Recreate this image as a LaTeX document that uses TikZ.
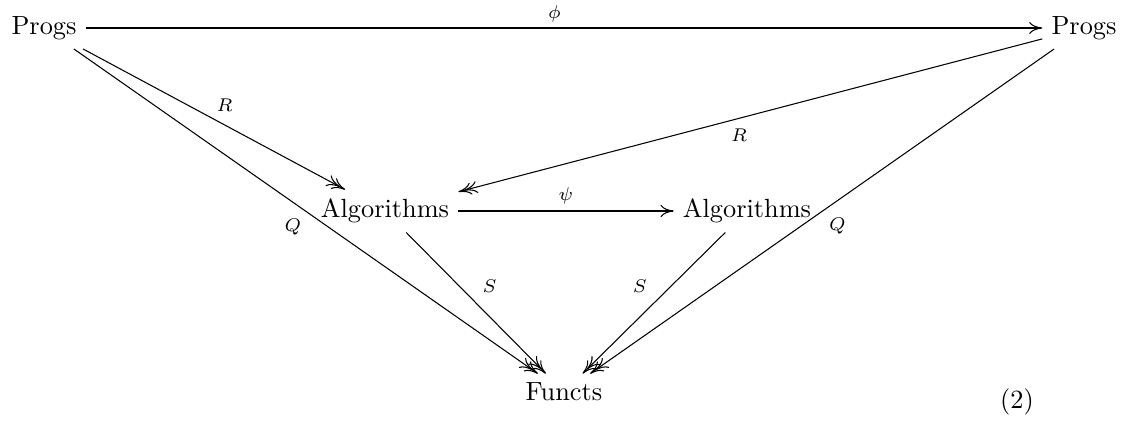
\documentclass[tikz,border=0pt]{standalone}
\usetikzlibrary{arrows.meta}
\begin{document}
\begin{tikzpicture}[x=0.38pt, y=-0.38pt,
  obj/.style={inner sep=3.33pt},
  lbl/.style={font=\scriptsize, inner sep=0pt},
  onehead/.style={-{Computer Modern Rightarrow[length=5pt,width=4.6pt]}},
  twohead/.style={-{Computer Modern Rightarrow[length=5pt,width=4.6pt,sep=-2.7pt]Computer Modern Rightarrow[length=5pt,width=4.6pt]}}]
\useasboundingbox (0,0) rectangle (1137,438);
\node[obj] (P1) at (44,28) {Progs};
\node[obj] (P2) at (1084,28) {Progs};
\node[obj] (A1) at (385,211) {Algorithms};
\node[obj] (A2) at (747,211) {Algorithms};
\node[obj] (F) at (564,392) {Functs};
\node (eq) at (1017,402) {(2)};
\draw[onehead] (P1) -- node[lbl, pos=0.49, yshift=5.3pt] (lphi) {$\phi$} (P2);
\draw[onehead] (A1) -- node[lbl, pos=0.5, yshift=5.7pt] (lpsi) {$\psi$} (A2);
\draw[twohead] (P1) -- node[lbl, pos=0.507, xshift=3.3pt, yshift=5.9pt] (lr1) {$R$} (A1);
\draw[twohead] (P2) -- node[lbl, pos=0.526, xshift=1.5pt, yshift=-6.1pt] (lr2) {$R$} (A1);
\draw[twohead] (P1) -- node[lbl, pos=0.497, xshift=-4.4pt, yshift=-6.3pt] (lq1) {$Q$} (F);
\draw[twohead] (P2) -- node[lbl, pos=0.4925, xshift=4.5pt, yshift=-6.6pt] (lq2) {$Q$} (F);
\draw[twohead] (A1) -- node[lbl, pos=0.488, xshift=5.8pt, yshift=5.8pt] (ls1) {$S$} (F);
\draw[twohead] (A2) -- node[lbl, pos=0.49, xshift=-5.9pt, yshift=5.9pt] (ls2) {$S$} (F);
\end{tikzpicture}
\end{document}
